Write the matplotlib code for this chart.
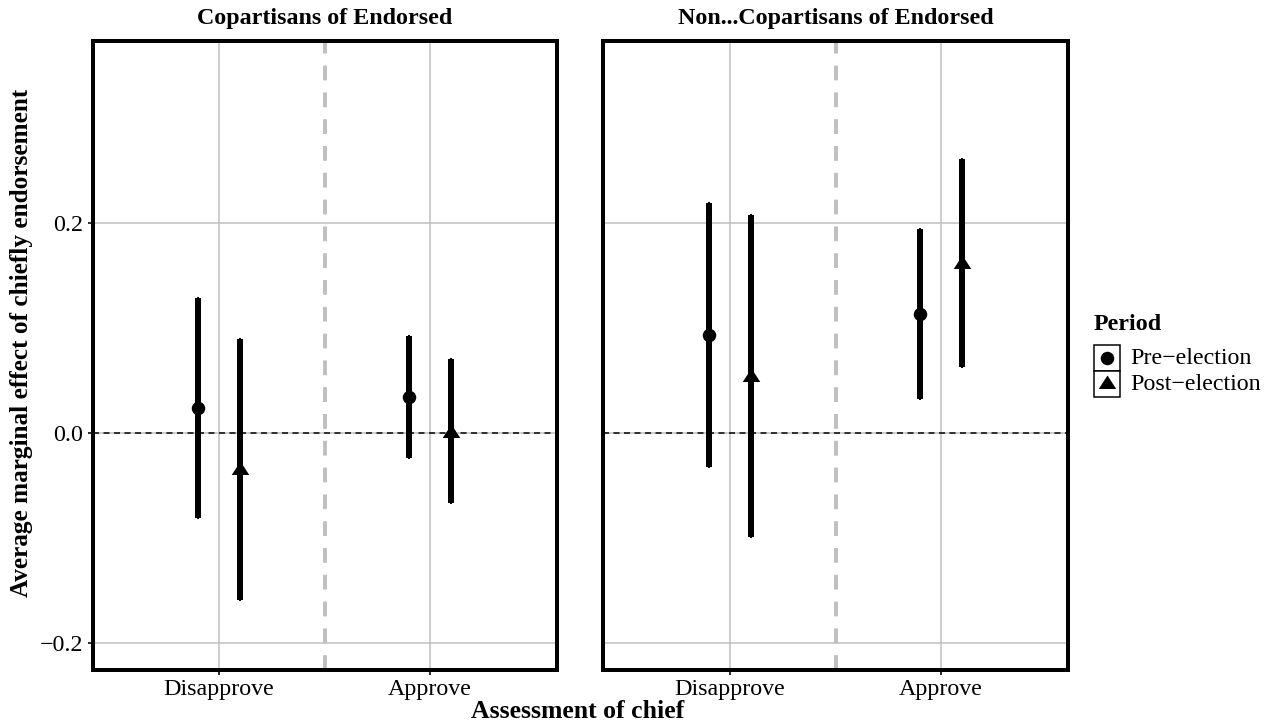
import matplotlib
matplotlib.use("Agg")
import matplotlib.pyplot as plt
from matplotlib.lines import Line2D
from matplotlib.patches import Rectangle

# ---- data -------------------------------------------------------------
panel_titles = ["Copartisans of Endorsed", "Non...Copartisans of Endorsed"]
assessments = ["Disapprove", "Approve"]
periods = ["Pre\u2212election", "Post\u2212election"]
y_ticks = [-0.2, 0.0, 0.2]
y_tick_labels = ["\u22120.2", "0.0", "0.2"]

# Copartisans of the endorsed candidate
copart_pre_est = [0.0236, 0.0341]
copart_pre_lo = [-0.0808, -0.0240]
copart_pre_hi = [0.1278, 0.0919]
copart_post_est = [-0.0356, 0.0000]
copart_post_lo = [-0.1589, -0.0669]
copart_post_hi = [0.0888, 0.0697]

# Non-copartisans of the endorsed candidate
noncop_pre_est = [0.0929, 0.1131]
noncop_pre_lo = [-0.0331, 0.0316]
noncop_pre_hi = [0.2183, 0.1938]
noncop_post_est = [0.0528, 0.1603]
noncop_post_lo = [-0.0998, 0.0621]
noncop_post_hi = [0.2071, 0.2602]

panels = [
    [(copart_pre_est, copart_pre_lo, copart_pre_hi),
     (copart_post_est, copart_post_lo, copart_post_hi)],
    [(noncop_pre_est, noncop_pre_lo, noncop_pre_hi),
     (noncop_post_est, noncop_post_lo, noncop_post_hi)],
]

# ---- style ------------------------------------------------------------
plt.rcParams["font.family"] = ["Liberation Serif", "DejaVu Serif"]
PX = 0.72  # points per pixel at 100 dpi
FS = 17.3      # tick labels, strip titles, legend
FS_AX = 18.2   # axis titles

W, H = 1271, 726
fig = plt.figure(figsize=(W / 100, H / 100), dpi=100)

# triangle with its centroid at the origin
tri = [(0, 2 / 3), (-0.65, -1 / 3), (0.65, -1 / 3), (0, 2 / 3)]
markers = ["o", tri]
msizes = [13.5 * PX, 18 * PX]
dodge = [-0.1, 0.1]
grid_col = "#bebebe"

axes_px = [(92.5, 556.5), (603, 1068)]
top_px, bot_px = 41, 670

for p, (x0, x1) in enumerate(axes_px):
    ax = fig.add_axes([x0 / W, (H - bot_px) / H, (x1 - x0) / W, (bot_px - top_px) / H])
    ax.set_xlim(0.4, 2.6)
    ax.set_ylim(-0.226, 0.3729)
    ax.set_xticks([1, 2])
    ax.set_xticklabels(assessments)
    ax.set_yticks(y_ticks)
    if p == 0:
        ax.set_yticklabels(y_tick_labels)
    else:
        ax.tick_params(axis="y", left=False, labelleft=False)
    ax.grid(True, color=grid_col, linewidth=1.5 * PX, zorder=0)
    ax.set_axisbelow(True)
    for sp in ax.spines.values():
        sp.set_linewidth(4 * PX)
        sp.set_color("black")
        sp.set_zorder(5)
    ax.tick_params(axis="both", length=5 * PX, width=2 * PX, color="#333333",
                   labelsize=FS, labelcolor="black")
    ax.tick_params(axis="x", pad=3)
    ax.tick_params(axis="y", pad=3)

    # separator between assessment groups and reference line at zero
    ax.axvline(1.5, color="#c0c0c0", linewidth=4 * PX,
               linestyle=(0, (3.7, 3.0)), zorder=1)
    ax.axhline(0, color="black", linewidth=1.5 * PX,
               linestyle=(0, (4, 3)), zorder=1)

    for k, (est, lo, hi) in enumerate(panels[p]):
        for j in range(len(assessments)):
            xpos = j + 1 + dodge[k]
            ax.plot([xpos, xpos], [lo[j], hi[j]], color="black",
                    linewidth=2 * PX, solid_capstyle="projecting", zorder=3)
            ax.plot([xpos, xpos], [lo[j], hi[j]], color="black",
                    linewidth=6 * PX, solid_capstyle="butt", zorder=3)
            ax.plot([xpos], [est[j]], marker=markers[k], markersize=msizes[k],
                    color="black", markeredgewidth=0, linestyle="none", zorder=4)

    ax.set_title(panel_titles[p], fontsize=FS, fontweight="bold", pad=12)

fig.text(578 / W, 1 - 711 / H, "Assessment of chief",
         ha="center", va="center", fontsize=FS_AX + 0.3, fontweight="bold")
fig.text(22 / W, 1 - 343 / H, "Average marginal effect of chiefly endorsement",
         ha="center", va="center", rotation=90, fontsize=FS_AX, fontweight="bold")

# ---- legend -----------------------------------------------------------
fig.text(1094 / W, 1 - 324 / H, "Period", ha="left", va="center",
         fontsize=FS, fontweight="bold")
key_w, key_h = 26, 26
for k, lab in enumerate(periods):
    ky = 345 + k * key_h
    fig.add_artist(Rectangle((1094 / W, 1 - (ky + key_h) / H), key_w / W, key_h / H,
                             transform=fig.transFigure, facecolor="white",
                             edgecolor="black", linewidth=1.5 * PX))
    fig.add_artist(Line2D([(1094 + key_w / 2) / W], [1 - (ky + key_h / 2) / H],
                          transform=fig.transFigure, marker=markers[k],
                          markersize=msizes[k], color="black",
                          markeredgewidth=0, linestyle="none"))
    fig.text(1130 / W, 1 - (ky + key_h / 2) / H, lab, ha="left", va="center",
             fontsize=FS)

fig.savefig("out.png", dpi=100, facecolor="white")
